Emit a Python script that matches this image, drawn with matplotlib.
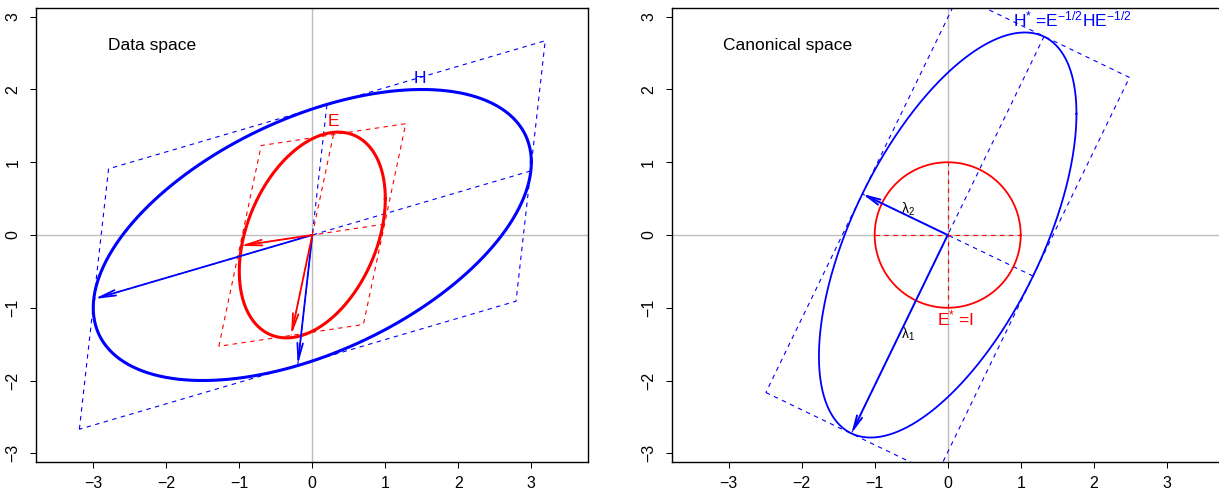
import numpy as np
import matplotlib
matplotlib.use("Agg")
import matplotlib.pyplot as plt
from matplotlib.patches import FancyArrowPatch, ArrowStyle

plt.rcParams['font.family'] = ['Liberation Sans', 'DejaVu Sans']
plt.rcParams['mathtext.fontset'] = 'custom'
plt.rcParams['mathtext.rm'] = 'Liberation Sans'
plt.rcParams['mathtext.it'] = 'Liberation Sans:italic'
plt.rcParams['mathtext.sf'] = 'Liberation Sans'
plt.rcParams['mathtext.default'] = 'regular'

# ---------------- data ----------------
H_matrix = [[9.0, 3.0], [3.0, 4.0]]
E_matrix = [[1.0, 0.5], [0.5, 2.0]]
Hstar_matrix = [[3.11, 2.94], [2.94, 7.75]]
Estar_matrix = [[1.0, 0.0], [0.0, 1.0]]

H_conj = [[-2.99, -0.88], [-0.20, -1.79]]      # conjugate radii of H (data space)
E_conj = [[-0.99, -0.15], [-0.29, -1.38]]      # conjugate radii of E (data space)
Hstar_axes = [[-1.32, -2.73], [-1.17, 0.565]]  # principal radii of H* (lambda1, lambda2)
Estar_axes = [[1.0, 0.0], [0.0, 1.0]]          # radii of E* = I

ticks = [-3, -2, -1, 0, 1, 2, 3]

BLUE = '#0000FF'
RED = '#FF0000'
GRAY = '#BEBEBE'

W, Hpx = 1219, 491
fig = plt.figure(figsize=(W / 100, Hpx / 100), dpi=100)


def make_ax(left_px):
    ax = fig.add_axes([left_px / W, 1 - 462 / Hpx, 552 / W, 454 / Hpx])
    ax.set_xlim(-3.78, 3.78)
    ax.set_ylim(-3.12, 3.12)
    ax.set_xticks(ticks)
    ax.set_yticks(ticks)
    ax.tick_params(direction='out', length=4.3, width=0.75, labelsize=11.5)
    ax.tick_params(axis='x', pad=5.5)
    ax.tick_params(axis='y', pad=7.0)
    for lab in ax.get_yticklabels():
        lab.set_rotation(90)
        lab.set_va('center')
    for s in ax.spines.values():
        s.set_linewidth(1.0)
    ax.axhline(0, color=GRAY, lw=1.0, zorder=0)
    ax.axvline(0, color=GRAY, lw=1.0, zorder=0)
    return ax


def ellipse(ax, M, color, lw):
    L = np.linalg.cholesky(np.array(M, dtype=float))
    t = np.linspace(0, 2 * np.pi, 500)
    pts = L @ np.vstack([np.cos(t), np.sin(t)])
    ax.plot(pts[0], pts[1], color=color, lw=lw, zorder=3)


def dashed(ax, xs, ys, color):
    ax.plot(xs, ys, color=color, lw=0.8, linestyle=(0, (4, 4)), zorder=2)


def conj_frame(ax, vecs, color, box=True):
    a = np.array(vecs[0]); b = np.array(vecs[1])
    if box:
        c = np.array([a + b, a - b, -a - b, -a + b, a + b])
        dashed(ax, c[:, 0], c[:, 1], color)
    dashed(ax, [-a[0], a[0]], [-a[1], a[1]], color)
    dashed(ax, [-b[0], b[0]], [-b[1], b[1]], color)


def arrows(ax, vecs, color, hl, lw=1.3):
    for v in vecs:
        arr = FancyArrowPatch((0, 0), (v[0], v[1]),
                              arrowstyle=ArrowStyle('->', head_length=hl, head_width=2.0),
                              mutation_scale=1, color=color, lw=lw,
                              shrinkA=0, shrinkB=0, zorder=4)
        ax.add_patch(arr)


# ---------------- left: data space ----------------
ax1 = make_ax(36.3)
conj_frame(ax1, H_conj, BLUE)
conj_frame(ax1, E_conj, RED)
ellipse(ax1, H_matrix, BLUE, 2.2)
ellipse(ax1, E_matrix, RED, 2.2)
arrows(ax1, H_conj, BLUE, 12)
arrows(ax1, E_conj, RED, 12)
ax1.text(-2.80, 2.61, 'Data space', fontsize=12.5, ha='left', va='center')
ax1.text(1.47, 2.15, 'H', color=BLUE, fontsize=12.5, ha='center', va='center')
ax1.text(0.29, 1.56, 'E', color=RED, fontsize=12.5, ha='center', va='center')

# ---------------- right: canonical space ----------------
ax2 = make_ax(671.7)
conj_frame(ax2, Hstar_axes, BLUE)
conj_frame(ax2, Estar_axes, RED, box=False)
ellipse(ax2, Hstar_matrix, BLUE, 1.3)
ellipse(ax2, Estar_matrix, RED, 1.3)
arrows(ax2, Hstar_axes, BLUE, 10, lw=1.4)
ax2.text(-3.08, 2.61, 'Canonical space', fontsize=12.5, ha='left', va='center')
ax2.text(0.90, 2.865, r'H$^{*}$ =E$^{-1/2}$HE$^{-1/2}$', color=BLUE, fontsize=12.5,
         ha='left', va='baseline')
ax2.text(-0.15, -1.24, r'E$^{*}$ =I', color=RED, fontsize=12.5, ha='left', va='baseline')
ax2.text(-0.54, -1.36, r'$\lambda_1$', fontsize=10, ha='center', va='center')
ax2.text(-0.55, 0.36, r'$\lambda_2$', fontsize=10, ha='center', va='center')

fig.savefig('out.png', dpi=100)
